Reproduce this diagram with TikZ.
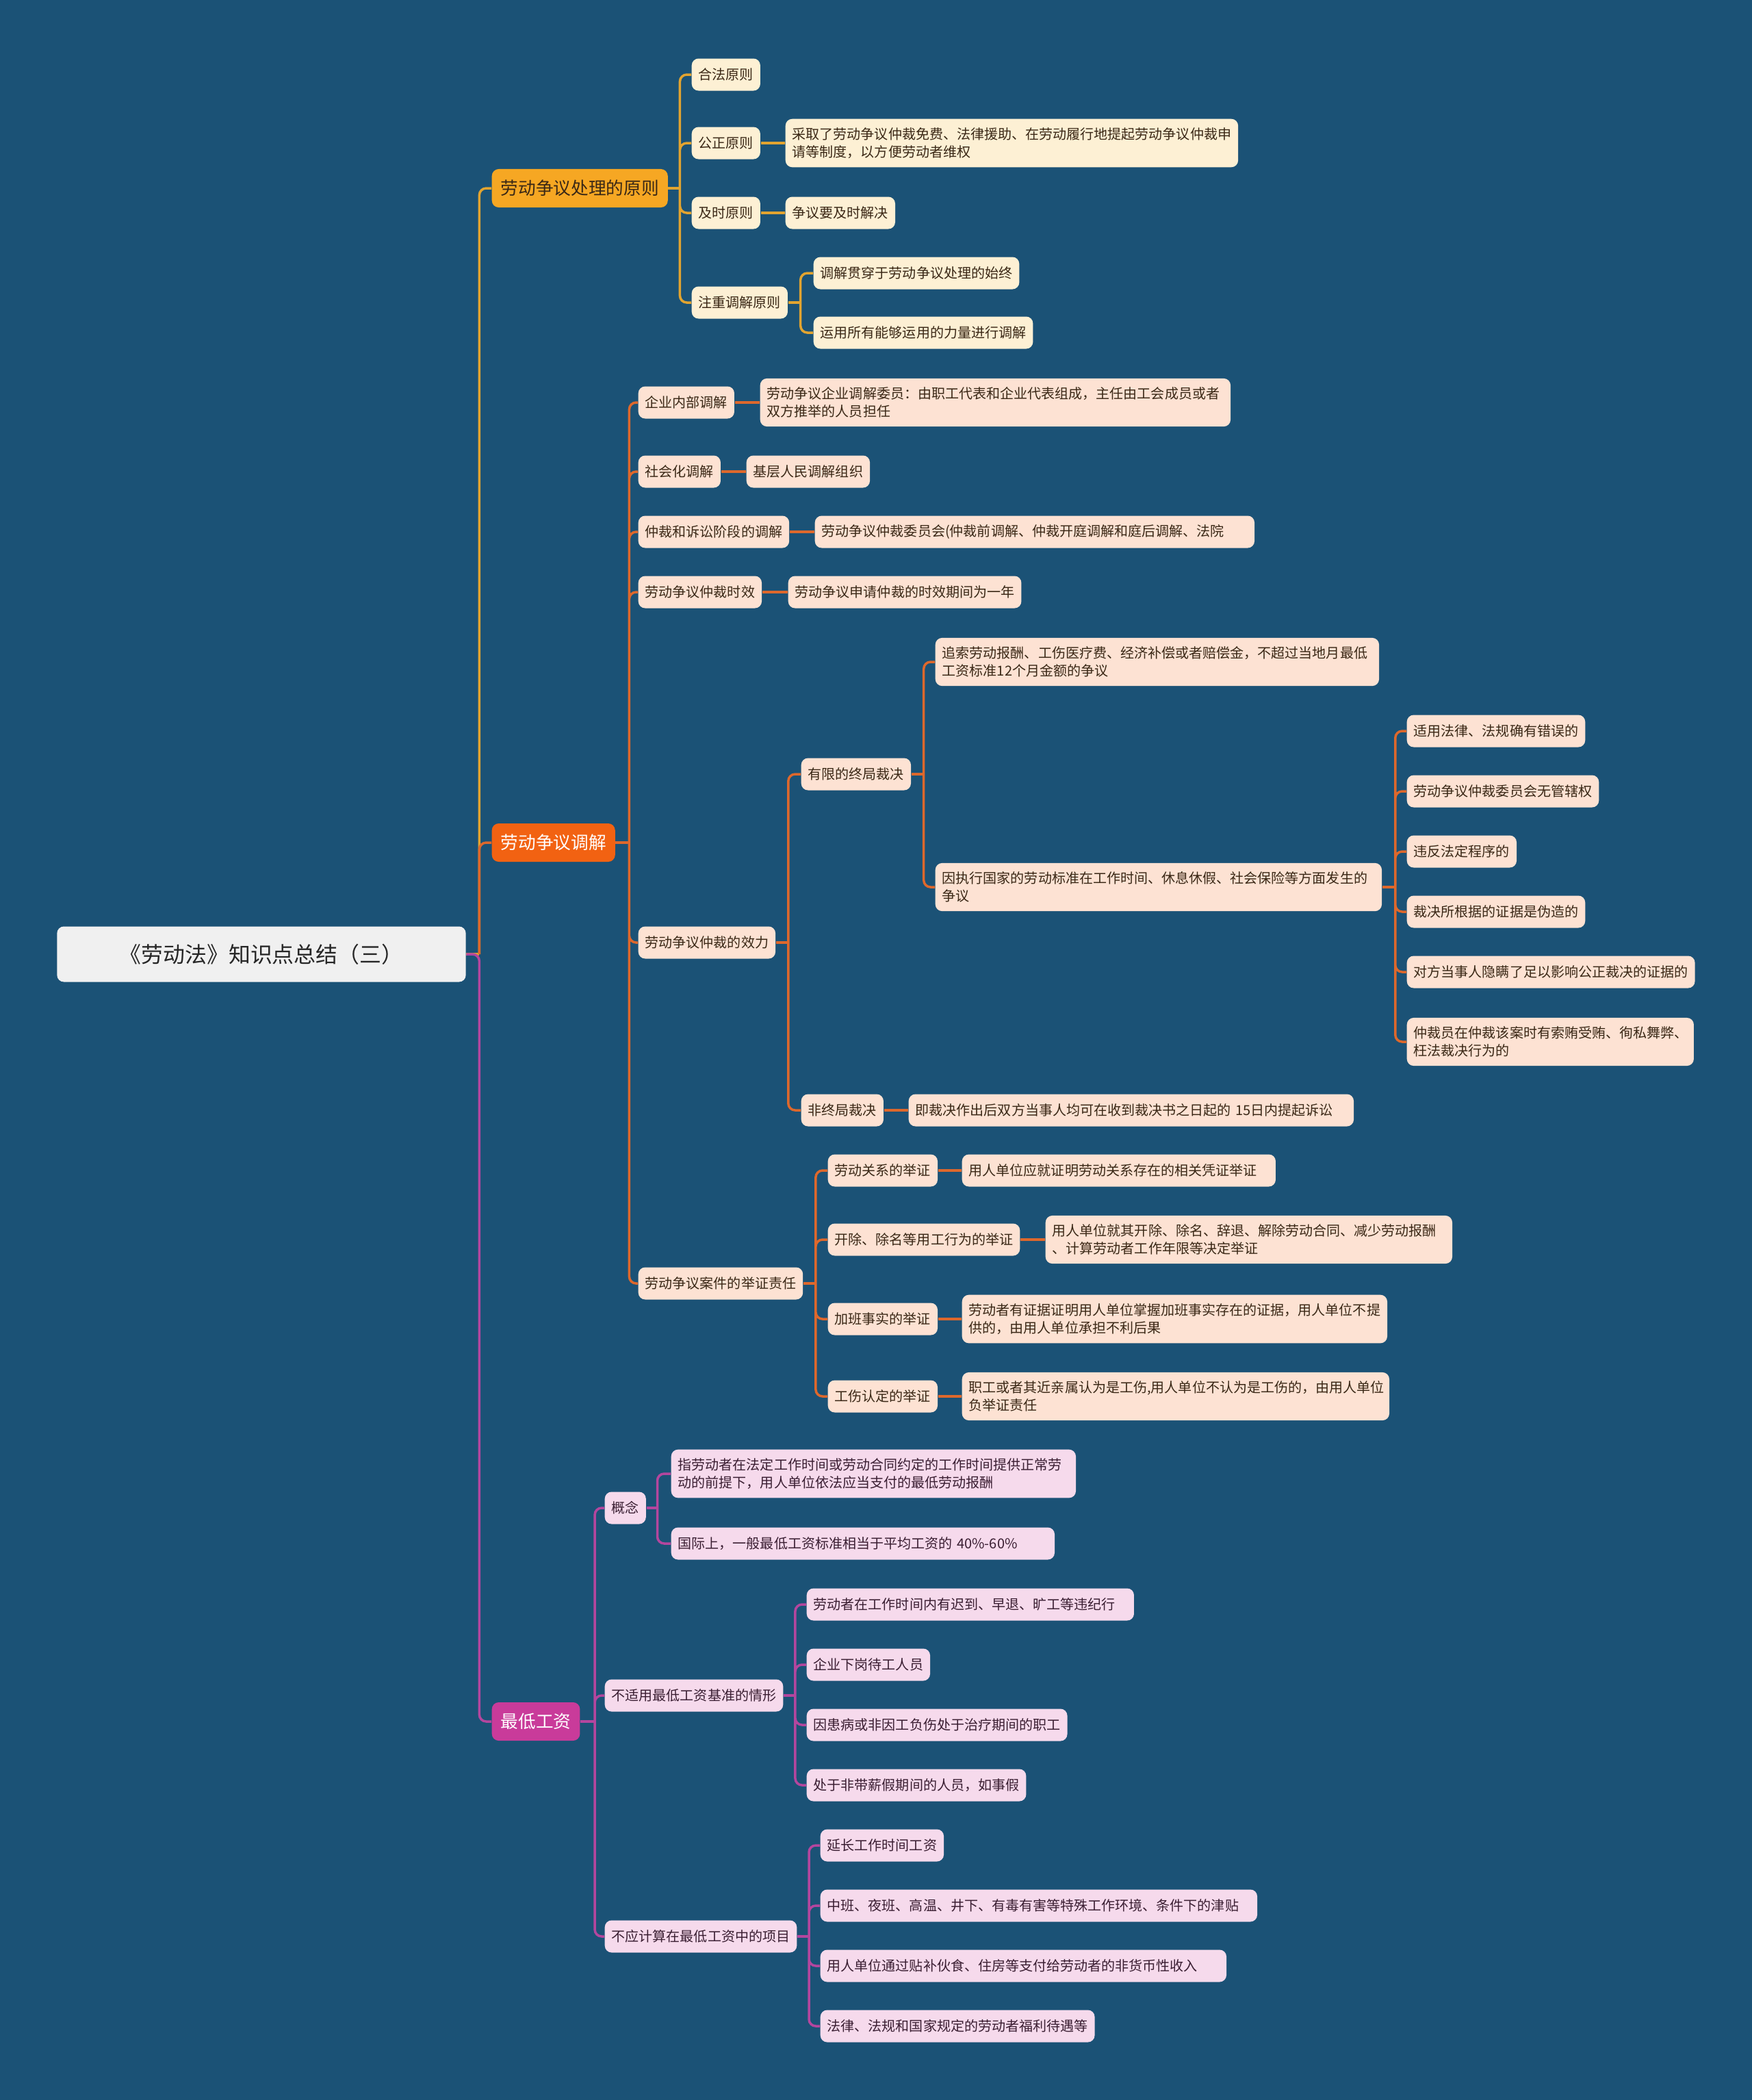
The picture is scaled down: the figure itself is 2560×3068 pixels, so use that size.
\documentclass[tikz,border=0pt]{standalone}
\usepackage{fontspec}
\newfontfamily\cjk{Noto Sans CJK SC}

\definecolor{bgblue}{RGB}{27,82,118}
\definecolor{rootgray}{RGB}{240,240,240}
\definecolor{fillA}{RGB}{246,167,35}
\definecolor{lineA}{RGB}{226,164,48}
\definecolor{leafAfill}{RGB}{253,240,212}
\definecolor{fillB}{RGB}{242,98,18}
\definecolor{lineB}{RGB}{222,104,44}
\definecolor{leafBfill}{RGB}{253,226,211}
\definecolor{fillC}{RGB}{201,59,154}
\definecolor{lineC}{RGB}{180,70,158}
\definecolor{leafCfill}{RGB}{246,218,236}
\definecolor{txtdark}{RGB}{58,40,22}
\definecolor{txtpink}{RGB}{58,30,50}

\tikzset{
    nodebase/.style={rounded corners=0.1cm, anchor=west, align=left,
        font=\cjk\fontsize{5.7}{7.26}\selectfont,
        inner xsep=0.1cm, inner ysep=0.13cm, minimum height=0.47cm},
    mainbase/.style={rounded corners=0.1cm, anchor=west,
        font=\cjk\fontsize{7.3}{9}\selectfont,
        inner xsep=0.13cm, minimum height=0.56cm},
    rootbox/.style={rounded corners=0.1cm, fill=rootgray, text=black!85,
        font=\cjk\fontsize{9.07}{11}\selectfont,
        minimum width=5.97cm, minimum height=0.81cm},
    mainA/.style={mainbase, fill=fillA, text=txtdark},
    mainB/.style={mainbase, fill=fillB, text=white},
    mainC/.style={mainbase, fill=fillC, text=white},
    leafA/.style={nodebase, fill=leafAfill, text=txtdark},
    leafB/.style={nodebase, fill=leafBfill, text=txtdark},
    leafC/.style={nodebase, fill=leafCfill, text=txtpink},
    wide/.style={text width=#1},
    linkA/.style={draw=lineA, line width=0.035cm, rounded corners=0.1cm},
    linkB/.style={draw=lineB, line width=0.035cm, rounded corners=0.1cm},
    linkC/.style={draw=lineC, line width=0.035cm, rounded corners=0.1cm},
}

\begin{document}
\begin{tikzpicture}[x=0.01cm, y=-0.01cm]
    % Background
    \fill[bgblue] (0,0) rectangle (2560,3068);
    % Root
    \node[rootbox] (tot) at (382,1394) {《劳动法》知识点总结（三）};
    %
    % Principles of dispute handling
    %
    \node[mainA] (yz) at (718,275) {劳动争议处理的原则};
    \node[leafA] (a1) at (1010,109) {合法原则};
    \node[leafA] (a2) at (1010,209) {公正原则};
    \node[leafA] (a3) at (1010,311) {及时原则};
    \node[leafA] (a4) at (1010,442) {注重调解原则};
    \node[leafA] (a2x) at (1147,209) {采取了劳动争议仲裁免费、法律援助、在劳动履行地提起劳动争议仲裁申\\请等制度，以方便劳动者维权};
    \node[leafA] (a3x) at (1147,311) {争议要及时解决};
    \node[leafA] (a4x) at (1188,399) {调解贯穿于劳动争议处理的始终};
    \node[leafA] (a4y) at (1188,486) {运用所有能够运用的力量进行调解};
    %
    % Mediation
    %
    \node[mainB] (tj) at (718,1231) {劳动争议调解};
    \node[leafB] (b1) at (932,588) {企业内部调解};
    \node[leafB, wide=6.67cm] (b1x) at (1110,588) {劳动争议企业调解委员：由职工代表和企业代表组成，主任由工会成员或者\\双方推举的人员担任};
    \node[leafB] (b2) at (932,689) {社会化调解};
    \node[leafB] (b2x) at (1090,689) {基层人民调解组织};
    \node[leafB] (b3) at (932,777) {仲裁和诉讼阶段的调解};
    \node[leafB, wide=6.22cm] (b3x) at (1190,777) {劳动争议仲裁委员会(仲裁前调解、仲裁开庭调解和庭后调解、法院};
    \node[leafB] (b4) at (932,865) {劳动争议仲裁时效};
    \node[leafB] (b4x) at (1151,865) {劳动争议申请仲裁的时效期间为一年};
    \node[leafB] (b5) at (932,1377) {劳动争议仲裁的效力};
    \node[leafB] (b5a) at (1170,1131) {有限的终局裁决};
    \node[leafB, wide=6.28cm] (b5a1) at (1366,967) {追索劳动报酬、工伤医疗费、经济补偿或者赔偿金，不超过当地月最低\\工资标准12个月金额的争议};
    \node[leafB, wide=6.32cm] (b5a2) at (1366,1296) {因执行国家的劳动标准在工作时间、休息休假、社会保险等方面发生的\\争议};
    \node[leafB] (c1) at (2055,1068) {适用法律、法规确有错误的};
    \node[leafB] (c2) at (2055,1156) {劳动争议仲裁委员会无管辖权};
    \node[leafB] (c3) at (2055,1244) {违反法定程序的};
    \node[leafB] (c4) at (2055,1332) {裁决所根据的证据是伪造的};
    \node[leafB] (c5) at (2055,1420) {对方当事人隐瞒了足以影响公正裁决的证据的};
    \node[leafB, wide=3.99cm] (c6) at (2055,1522) {仲裁员在仲裁该案时有索贿受贿、徇私舞弊、\\枉法裁决行为的};
    \node[leafB] (b5b) at (1170,1622) {非终局裁决};
    \node[leafB, wide=6.30cm] (b5bx) at (1327,1622) {即裁决作出后双方当事人均可在收到裁决书之日起的 15日内提起诉讼};
    \node[leafB] (b6) at (932,1875) {劳动争议案件的举证责任};
    \node[leafB] (d1) at (1209,1710) {劳动关系的举证};
    \node[leafB, wide=4.38cm] (d1x) at (1405,1710) {用人单位应就证明劳动关系存在的相关凭证举证};
    \node[leafB] (d2) at (1209,1811) {开除、除名等用工行为的举证};
    \node[leafB, wide=5.74cm] (d2x) at (1527,1811) {用人单位就其开除、除名、辞退、解除劳动合同、减少劳动报酬\\、计算劳动者工作年限等决定举证};
    \node[leafB] (d3) at (1209,1927) {加班事实的举证};
    \node[leafB] (d3x) at (1405,1927) {劳动者有证据证明用人单位掌握加班事实存在的证据，用人单位不提\\供的，由用人单位承担不利后果};
    \node[leafB] (d4) at (1209,2040) {工伤认定的举证};
    \node[leafB, wide=6.04cm] (d4x) at (1405,2040) {职工或者其近亲属认为是工伤,用人单位不认为是工伤的，由用人单位\\负举证责任};
    %
    % Minimum wage
    %
    \node[mainC] (zd) at (718,2515) {最低工资};
    \node[leafC] (e1) at (883,2203) {概念};
    \node[leafC, wide=5.71cm] (e1a) at (980,2153) {指劳动者在法定工作时间或劳动合同约定的工作时间提供正常劳\\动的前提下，用人单位依法应当支付的最低劳动报酬};
    \node[leafC, wide=5.40cm] (e1b) at (980,2255) {国际上，一般最低工资标准相当于平均工资的 40\%-60\%};
    \node[leafC] (e2) at (883,2477) {不适用最低工资基准的情形};
    \node[leafC, wide=4.58cm] (e2a) at (1178,2344) {劳动者在工作时间内有迟到、早退、旷工等违纪行};
    \node[leafC] (e2b) at (1178,2432) {企业下岗待工人员};
    \node[leafC] (e2c) at (1178,2520) {因患病或非因工负伤处于治疗期间的职工};
    \node[leafC] (e2d) at (1178,2608) {处于非带薪假期间的人员，如事假};
    \node[leafC] (e3) at (883,2829) {不应计算在最低工资中的项目};
    \node[leafC] (e3a) at (1198,2696) {延长工作时间工资};
    \node[leafC, wide=6.18cm] (e3b) at (1198,2784) {中班、夜班、高温、井下、有毒有害等特殊工作环境、条件下的津贴};
    \node[leafC, wide=5.73cm] (e3c) at (1198,2872) {用人单位通过贴补伙食、住房等支付给劳动者的非货币性收入};
    \node[leafC] (e3d) at (1198,2960) {法律、法规和国家规定的劳动者福利待遇等};
    %
    % Connectors
    %
    \draw[linkA] (tot.east) -- ++(19,0) coordinate (totj);
    \draw[linkA] (totj) |- (yz.west);
    \draw[linkB] (totj) |- (tj.west);
    \draw[linkC] (tot.east) -- (totj) |- (zd.west);
    % principles
    \draw[linkA] (yz.east) -- ++(17,0) coordinate (yzj);
    \draw[linkA] (yzj) |- (a1.west) (yzj) |- (a2.west) (yzj) |- (a3.west) (yzj) |- (a4.west);
    \draw[linkA] (a2.east) -- (a2x.west);
    \draw[linkA] (a3.east) -- (a3x.west);
    \draw[linkA] (a4.east) -- ++(18,0) coordinate (a4j);
    \draw[linkA] (a4j) |- (a4x.west) (a4j) |- (a4y.west);
    % mediation
    \draw[linkB] (tj.east) -- ++(20,0) coordinate (tjj);
    \draw[linkB] (tjj) |- (b1.west) (tjj) |- (b2.west) (tjj) |- (b3.west)
        (tjj) |- (b4.west) (tjj) |- (b5.west) (tjj) |- (b6.west);
    \draw[linkB] (b1.east) -- (b1x.west);
    \draw[linkB] (b2.east) -- (b2x.west);
    \draw[linkB] (b3.east) -- (b3x.west);
    \draw[linkB] (b4.east) -- (b4x.west);
    \draw[linkB] (b5.east) -- ++(18,0) coordinate (b5j);
    \draw[linkB] (b5j) |- (b5a.west) (b5j) |- (b5b.west);
    \draw[linkB] (b5a.east) -- ++(18,0) coordinate (b5aj);
    \draw[linkB] (b5aj) |- (b5a1.west) (b5aj) |- (b5a2.west);
    \draw[linkB] (b5a2.east) -- ++(19,0) coordinate (b5a2j);
    \draw[linkB] (b5a2j) |- (c1.west) (b5a2j) |- (c2.west) (b5a2j) |- (c3.west)
        (b5a2j) |- (c4.west) (b5a2j) |- (c5.west) (b5a2j) |- (c6.west);
    \draw[linkB] (b5b.east) -- (b5bx.west);
    \draw[linkB] (b6.east) -- ++(18,0) coordinate (b6j);
    \draw[linkB] (b6j) |- (d1.west) (b6j) |- (d2.west) (b6j) |- (d3.west) (b6j) |- (d4.west);
    \draw[linkB] (d1.east) -- (d1x.west);
    \draw[linkB] (d2.east) -- (d2x.west);
    \draw[linkB] (d3.east) -- (d3x.west);
    \draw[linkB] (d4.east) -- (d4x.west);
    % minimum wage
    \draw[linkC] (zd.east) -- ++(21,0) coordinate (zdj);
    \draw[linkC] (zdj) |- (e1.west) (zdj) |- (e2.west) (zdj) |- (e3.west);
    \draw[linkC] (e1.east) -- ++(16,0) coordinate (e1j);
    \draw[linkC] (e1j) |- (e1a.west) (e1j) |- (e1b.west);
    \draw[linkC] (e2.east) -- ++(17,0) coordinate (e2j);
    \draw[linkC] (e2j) |- (e2a.west) (e2j) |- (e2b.west) (e2j) |- (e2c.west) (e2j) |- (e2d.west);
    \draw[linkC] (e3.east) -- ++(17,0) coordinate (e3j);
    \draw[linkC] (e3j) |- (e3a.west) (e3j) |- (e3b.west) (e3j) |- (e3c.west) (e3j) |- (e3d.west);
\end{tikzpicture}
\end{document}
